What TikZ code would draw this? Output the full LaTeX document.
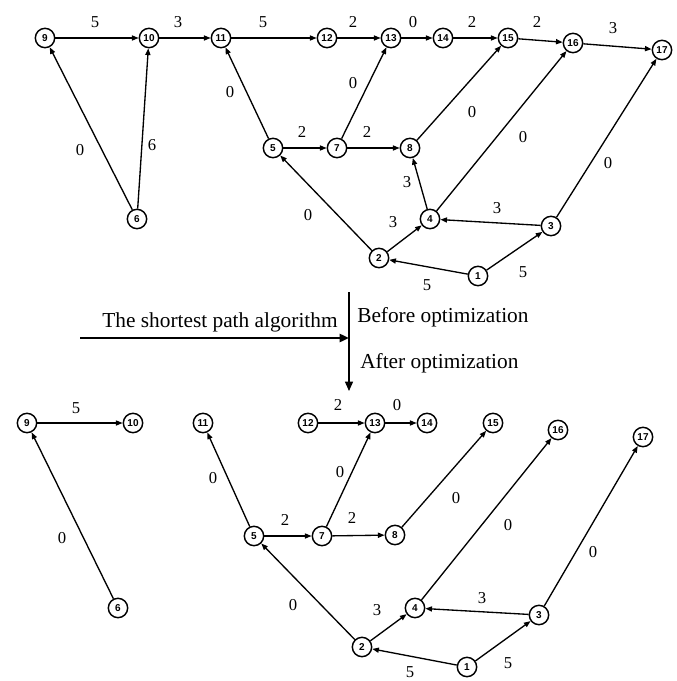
\documentclass[tikz,border=0pt]{standalone}
\usepackage{fontspec}
\setmainfont{Liberation Serif}
\newfontfamily\nodefont{Liberation Sans}
\usetikzlibrary{arrows.meta}
\tikzset{
  vtx/.style={circle,draw,line width=1.1pt,inner sep=0pt,minimum size=14.5pt,font=\nodefont\bfseries\fontsize{7.5}{7.5}\selectfont},
  edg/.style={line width=1pt,-{Triangle[length=5pt,width=3.8pt]}},
  lab/.style={font=\fontsize{12.5}{12.5}\selectfont,inner sep=0pt},
  txt/.style={font=\fontsize{16}{16}\selectfont,inner sep=0pt}
}
\begin{document}
\begin{tikzpicture}[x=0.75pt,y=-0.75pt]
\useasboundingbox (0,0) rectangle (677,681);
% ---------- top graph ----------
\node[vtx] (t9)  at (45,38) {9};
\node[vtx] (t10) at (149,38) {10};
\node[vtx] (t11) at (221,38) {11};
\node[vtx] (t12) at (327,38) {12};
\node[vtx] (t13) at (391,38) {13};
\node[vtx] (t14) at (443,38) {14};
\node[vtx] (t15) at (508,38) {15};
\node[vtx] (t16) at (573,43) {16};
\node[vtx] (t17) at (662,50) {17};
\node[vtx] (t6)  at (137,219) {6};
\node[vtx] (t5)  at (273,148) {5};
\node[vtx] (t7)  at (337,148) {7};
\node[vtx] (t8)  at (410,148) {8};
\node[vtx] (t4)  at (430,219) {4};
\node[vtx] (t3)  at (551,226) {3};
\node[vtx] (t2)  at (379,258) {2};
\node[vtx] (t1)  at (478,276) {1};
\draw[edg] (t9)--(t10);
\draw[edg] (t10)--(t11);
\draw[edg] (t11)--(t12);
\draw[edg] (t12)--(t13);
\draw[edg] (t13)--(t14);
\draw[edg] (t14)--(t15);
\draw[edg] (t15)--(t16);
\draw[edg] (t16)--(t17);
\draw[edg] (t6)--(t9);
\draw[edg] (t6)--(t10);
\draw[edg] (t5)--(t11);
\draw[edg] (t5)--(t7);
\draw[edg] (t7)--(t13);
\draw[edg] (t7)--(t8);
\draw[edg] (t8)--(t15);
\draw[edg] (t2)--(t5);
\draw[edg] (t2)--(t4);
\draw[edg] (t4)--(t8);
\draw[edg] (t4)--(t16);
\draw[edg] (t3)--(t4);
\draw[edg] (t3)--(t17);
\draw[edg] (t1)--(t2);
\draw[edg] (t1)--(t3);
\node[lab] (ta1) at (95,22) {5};
\node[lab] (ta2) at (178,22) {3};
\node[lab] (ta3) at (263,22) {5};
\node[lab] (ta4) at (353,22) {2};
\node[lab] (ta5) at (413,22) {0};
\node[lab] (ta6) at (472,22) {2};
\node[lab] (ta7) at (537,22) {2};
\node[lab] (ta8) at (613,28) {3};
\node[lab] (ta9) at (80,150) {0};
\node[lab] (ta10) at (152,145) {6};
\node[lab] (ta11) at (230,92) {0};
\node[lab] (ta12) at (302,132) {2};
\node[lab] (ta13) at (308,215) {0};
\node[lab] (ta14) at (353,83) {0};
\node[lab] (ta15) at (367,132) {2};
\node[lab] (ta16) at (472,112) {0};
\node[lab] (ta17) at (523,137) {0};
\node[lab] (ta18) at (608,163) {0};
\node[lab] (ta19) at (407,182) {3};
\node[lab] (ta20) at (393,222) {3};
\node[lab] (ta21) at (497,208) {3};
\node[lab] (ta22) at (523,272) {5};
\node[lab] (ta23) at (427,285) {5};
% ---------- middle ----------
\coordinate (hs) at (80,338);
\coordinate (he) at (349,338);
\coordinate (vs) at (349,292);
\coordinate (ve) at (349,391);
\draw[line width=2.2pt,-{Triangle[length=7pt,width=6pt]}] (hs)--(he);
\draw[line width=1pt,-{Triangle[length=7pt,width=6pt]}] (vs)--(ve);
\node[txt] (alg) at (220,322) {The shortest path algorithm};
\node[txt,anchor=west] (bef) at (357,317) {Before optimization};
\node[txt,anchor=west] (aft) at (360,363) {After optimization};
% ---------- bottom graph ----------
\node[vtx] (b9)  at (27,423) {9};
\node[vtx] (b10) at (133,423) {10};
\node[vtx] (b6)  at (118,608) {6};
\node[vtx] (b11) at (203,423) {11};
\node[vtx] (b12) at (308,423) {12};
\node[vtx] (b13) at (375,423) {13};
\node[vtx] (b14) at (427,423) {14};
\node[vtx] (b15) at (493,423) {15};
\node[vtx] (b16) at (558,430) {16};
\node[vtx] (b17) at (643,437) {17};
\node[vtx] (b5)  at (254,536) {5};
\node[vtx] (b7)  at (322,536) {7};
\node[vtx] (b8)  at (395,535) {8};
\node[vtx] (b4)  at (415,608) {4};
\node[vtx] (b3)  at (539,615) {3};
\node[vtx] (b2)  at (362,647) {2};
\node[vtx] (b1)  at (467,667) {1};
\draw[edg] (b9)--(b10);
\draw[edg] (b6)--(b9);
\draw[edg] (b12)--(b13);
\draw[edg] (b13)--(b14);
\draw[edg] (b5)--(b11);
\draw[edg] (b5)--(b7);
\draw[edg] (b7)--(b13);
\draw[edg] (b7)--(b8);
\draw[edg] (b8)--(b15);
\draw[edg] (b2)--(b5);
\draw[edg] (b2)--(b4);
\draw[edg] (b4)--(b16);
\draw[edg] (b3)--(b4);
\draw[edg] (b3)--(b17);
\draw[edg] (b1)--(b2);
\draw[edg] (b1)--(b3);
\node[lab] (ba1) at (76,408) {5};
\node[lab] (ba2) at (62,538) {0};
\node[lab] (ba3) at (213,478) {0};
\node[lab] (ba4) at (285,520) {2};
\node[lab] (ba5) at (293,605) {0};
\node[lab] (ba6) at (338,405) {2};
\node[lab] (ba7) at (397,405) {0};
\node[lab] (ba8) at (340,472) {0};
\node[lab] (ba9) at (352,518) {2};
\node[lab] (ba10) at (456,498) {0};
\node[lab] (ba11) at (508,525) {0};
\node[lab] (ba12) at (593,552) {0};
\node[lab] (ba13) at (482,598) {3};
\node[lab] (ba14) at (377,610) {3};
\node[lab] (ba15) at (508,663) {5};
\node[lab] (ba16) at (410,672) {5};
\end{tikzpicture}
\end{document}
